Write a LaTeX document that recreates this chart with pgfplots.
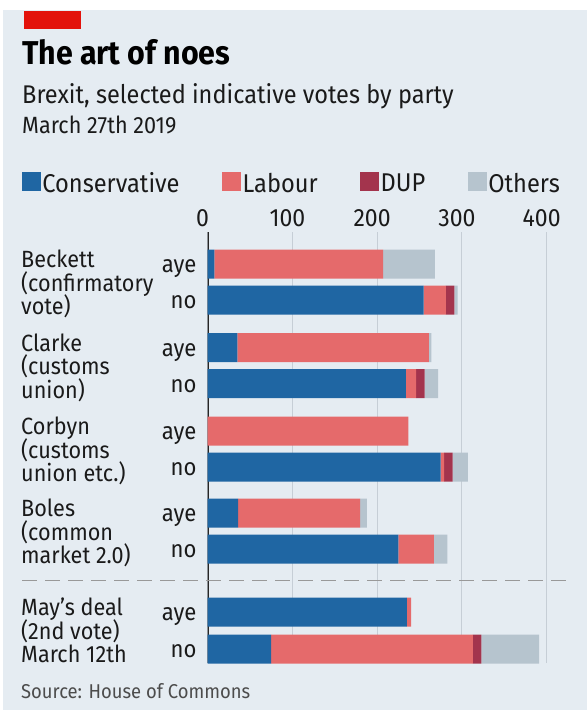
\documentclass[border=0pt]{standalone}
\usepackage{pgfplots}
\usepackage{pgfplotstable}
\pgfplotsset{compat=1.18}
\usepackage{fontspec}
\setmainfont[FakeStretch=0.92]{Fira Sans}

\definecolor{bg}{HTML}{E5ECF2}
\definecolor{ecored}{HTML}{E3120B}
\definecolor{con}{HTML}{1F66A3}
\definecolor{lab}{HTML}{E56A6B}
\definecolor{dup}{HTML}{A3344D}
\definecolor{oth}{HTML}{B6C4CE}
\definecolor{gridc}{HTML}{C6CED6}
\definecolor{txt}{HTML}{1A1A1A}

% y = minus the bar centre in picture units
\pgfplotstableread{
y      con lab dup oth
-264   8   199 0   61
-300   255 26  10  4
-347.5 35  226 0   3
-383.5 234 12  10  16
-431   0   237 0   0
-467   275 4   10  18
-513   36  144 0   8
-549   225 42  0   16
-612   235 5   0   0
-649   75  238 10  68
}\votes

\newcommand\fs[1]{\fontsize{#1}{#1}\selectfont}

\begin{document}
\begin{tikzpicture}[x=1pt,y=1pt,
  lbl/.style={anchor=base west, inner sep=0pt, text=txt, font=\fs{23.5}}]
\useasboundingbox (0,0) rectangle (587,-710);
\fill[white] (0,0) rectangle (587,-710);
\fill[bg] (3,-10) rectangle (587,-710);
\fill[ecored] (24,-11) rectangle (81,-29);

\node[anchor=base west, inner sep=0pt, font=\fs{33}\bfseries] at (22,-64) {The art of noes};
\node[anchor=base west, inner sep=0pt, text=txt, font=\fs{25.6}] at (22,-103) {Brexit, selected indicative votes by party};
\node[anchor=base west, inner sep=0pt, text=txt, font=\fs{23.5}] at (22,-133) {March 27th 2019};

% group labels
\node[lbl] at (21,-267.7) {Beckett};
\node[lbl] at (21,-291.2) {(confirmatory};
\node[lbl] at (21,-314.7) {vote)};
\node[lbl] at (21,-351.2) {Clarke};
\node[lbl] at (21,-374.7) {(customs};
\node[lbl] at (21,-398.2) {union)};
\node[lbl] at (21,-434.7) {Corbyn};
\node[lbl] at (21,-458.2) {(customs};
\node[lbl] at (21,-481.7) {union etc.)};
\node[lbl] at (21,-516.7) {Boles};
\node[lbl] at (21,-540.2) {(common};
\node[lbl] at (21,-563.7) {market 2.0)};
\node[lbl] at (21,-615.7) {May’s deal};
\node[lbl] at (21,-639.2) {(2nd vote)};
\node[lbl] at (21,-662.7) {March 12th};

\begin{axis}[
  at={(245,-232)}, anchor=north west,
  scale only axis, width=355.95pt, height=431pt,
  xmin=0, xmax=420, ymin=-663, ymax=-232,
  xbar stacked, bar width=29pt,
  axis line style={draw=none}, major tick length=0pt,
  xtick={0,100,200,300,400}, xticklabel pos=upper,
  /pgf/number format/assume math mode=true,
  xticklabel style={anchor=base, inner sep=0pt, yshift=6pt, xshift=-5pt, text=txt, font=\fs{25}},
  xmajorgrids, grid style={draw=gridc, line width=1pt},
  ytick={-264,-300,-347.5,-383.5,-431,-467,-513,-549,-612,-649},
  yticklabels={aye,no,aye,no,aye,no,aye,no,aye,no},
  yticklabel style={anchor=base east, inner sep=0pt, xshift=-11pt, yshift=-8.5pt, text=txt, font=\fs{24}},
  legend columns=4,
  legend style={at={(-0.5225,1.1415)}, anchor=north west, draw=none, fill=none,
    inner sep=0pt, font=\fs{25.7}, text=txt,
    nodes={inner sep=1.5pt},
    /tikz/every even column/.append style={column sep=41pt}},
  legend image code/.code={\fill[#1] (0pt,-8pt) rectangle (19pt,11pt);},
]
\addplot[fill=con, draw=none] table[x=con, y=y] {\votes};
\addplot[fill=lab, draw=none] table[x=lab, y=y] {\votes};
\addplot[fill=dup, draw=none] table[x=dup, y=y] {\votes};
\addplot[fill=oth, draw=none] table[x=oth, y=y] {\votes};
\legend{Conservative, Labour, DUP, Others}
\draw[draw=black!85, line width=2.2pt] (axis cs:0,-232) -- (axis cs:0,-663);
\end{axis}

\draw[draw=black!40, line width=1.8pt, dash pattern=on 15pt off 8pt] (22,-580.5) -- (566,-580.5);
\node[anchor=base west, inner sep=0pt, text=black!70, font=\fs{20}] at (21,-698) {Source: House of Commons};
\end{tikzpicture}
\end{document}
